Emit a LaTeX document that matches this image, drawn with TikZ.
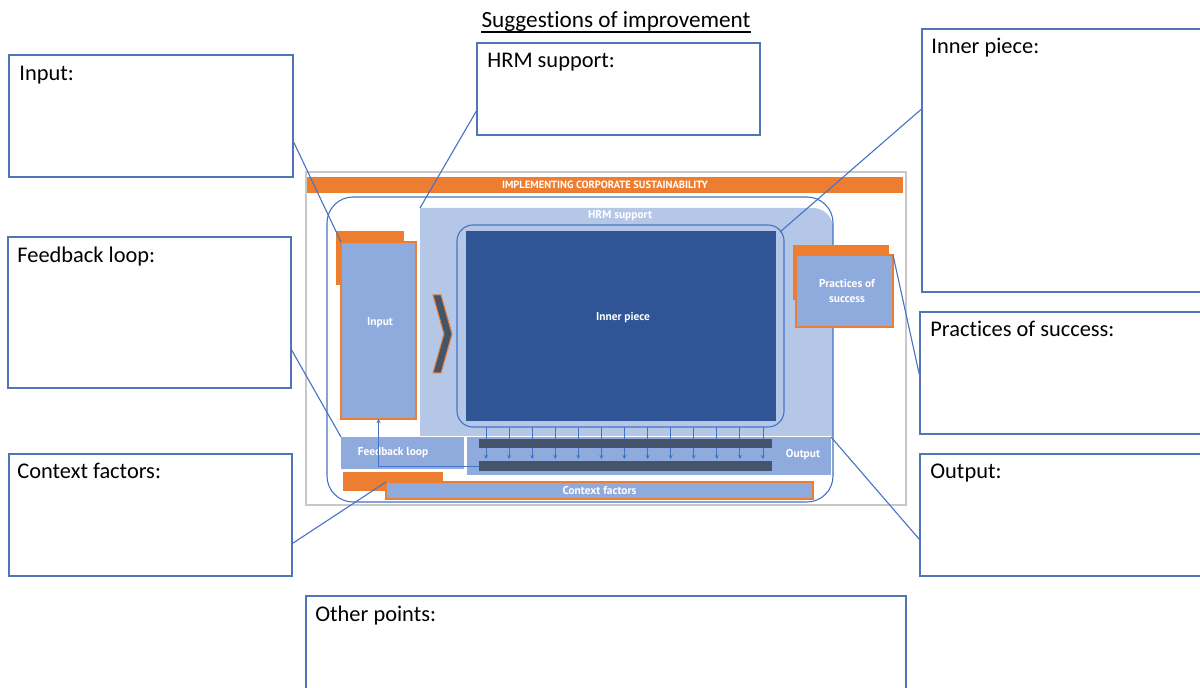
\documentclass[tikz,border=0pt]{standalone}
\usepackage{fontspec}
\setmainfont{Carlito}[Ligatures=NoCommon]
\newfontfamily\dinfont{PT Sans}
\usetikzlibrary{fit,calc,arrows.meta}
\definecolor{noteblue}{HTML}{5275BA}
\definecolor{leadblue}{HTML}{4472C4}
\definecolor{hrmfill}{HTML}{B4C7E7}
\definecolor{midblue}{HTML}{8FAADC}
\definecolor{deepblue}{HTML}{2F5597}
\definecolor{slate}{HTML}{44546A}
\definecolor{accent}{HTML}{ED7D31}
\definecolor{framegray}{HTML}{C8C8C8}
\begin{document}
\begin{tikzpicture}[x=0.5pt,y=-0.5pt,
  notebox/.style={draw=noteblue, line width=0.75pt, inner sep=0pt},
  notelabel/.style={anchor=base west, inner sep=0pt, font=\fontsize{11.2}{13}\selectfont},
  lead/.style={draw=leadblue, line width=0.55pt},
  area/.style={inner sep=0pt, outer sep=0pt},
  tag/.style={inner sep=0pt, text=white, align=center, font=\dinfont\bfseries\fontsize{5.7}{6.7}\selectfont},
  orangeblock/.style={area, fill=accent},
  bluecard/.style={area, fill=midblue, draw=accent, line width=0.6pt},
  slatebar/.style={area, fill=slate},
  flow/.style={draw=leadblue, line width=0.4pt, -{Stealth[length=2pt,width=2pt]}}
]
\useasboundingbox (0,0) rectangle (1200,688);
\clip (0,0) rectangle (1200,688);

% ---------- heading ----------
\node[anchor=base, inner sep=0pt, font=\fontsize{11.6}{14}\selectfont] (title) at (616,28) {Suggestions of improvement};
\draw[line width=0.8pt] ($(title.base west)+(0,4)$) -- ($(title.base east)+(0,4)$);

% ---------- note boxes ----------
\node[notebox, fit={(9,55)(293,177)}] (nIn) {};
\node[notelabel] (tIn) at (19,81) {Input:};
\node[notebox, fit={(477,43)(760,135)}] (nHrm) {};
\node[notelabel] (tHrm) at (487,68) {HRM support:};
\node[notebox, fit={(922,29)(1210,292)}] (nInner) {};
\node[notelabel] (tInner) at (931,54) {Inner piece:};
\node[notebox, fit={(8,237)(291,388)}] (nFb) {};
\node[notelabel] (tFb) at (17,263) {Feedback loop:};
\node[notebox, fit={(920,312)(1210,434)}] (nPrac) {};
\node[notelabel] (tPrac) at (930,337) {Practices of success:};
\node[notebox, fit={(9,454)(292,576)}] (nCtx) {};
\node[notelabel] (tCtx) at (17,479) {Context factors:};
\node[notebox, fit={(920,454)(1210,576)}] (nOut) {};
\node[notelabel] (tOut) at (930,479) {Output:};
\node[notebox, fit={(306,596)(906,700)}] (nOther) {};
\node[notelabel] (tOther) at (315,622) {Other points:};

% ---------- model diagram ----------
\node[area, draw=framegray, line width=0.6pt, fit={(306,172)(906,505)}] (frame) {};
\node[orangeblock, fit={(307,177)(903,193)}] (topbar) {};
\node[tag, font=\dinfont\bfseries\fontsize{5.25}{6}\selectfont] (topbarText) at (topbar.center) {IMPLEMENTING CORPORATE SUSTAINABILITY};

% light HRM field, only its upper right corner rounded
\node[area, fit={(420,208)(833,436)}] (hrm) {};
\fill[hrmfill] (hrm.south west) -- (hrm.north west) [rounded corners=10pt] -- (hrm.north east) [sharp corners] -- (hrm.south east) -- cycle;
\node[tag] (hrmText) at (620,216) {HRM support};

% outer rounded outline
\node[area, draw=leadblue, line width=0.55pt, rounded corners=13pt, fit={(327,197)(833,502)}] (outer) {};

% inner piece
\node[area, draw=leadblue, line width=0.55pt, rounded corners=8pt, fit={(457,225)(784,427)}] (innerFrame) {};
\node[area, fill=deepblue, fit={(466,231)(776,421)}] (inner) {};
\node[tag] (innerText) at (623,318) {Inner piece};

% chevron
\filldraw[fill=slate, draw=accent, line width=0.5pt] (433,295) -- (441,295) -- (452,334) -- (441,373) -- (433,373) -- (444,334) -- cycle;

% input block
\node[orangeblock, fit={(336,231)(404,285)}] (inShadow) {};
\node[bluecard, fit={(341,242)(416,419)}] (pIn) {};
\node[tag] (inText) at (380,323) {Input};

% practices of success block
\node[orangeblock, fit={(793,245)(889,300)}] (pracShadow) {};
\node[bluecard, fit={(796,255)(893,327)}] (pPrac) {};
\node[tag] (pracText) at (847,291) {Practices of\\[1pt]success};

% feedback loop and output strips
\node[area, fill=midblue, fit={(341,437)(464,469)}] (pFb) {};
\node[tag] (fbText) at (393,453) {Feedback loop};
\node[area, fill=midblue, fit={(467,437)(831,475)}] (outStrip) {};
\node[tag] (outText) at (803,455) {Output};

% arrows from the inner piece down to the output
\foreach \k in {0,...,12}{
  \coordinate (a\k) at ({486+23.08*\k},427);
  \coordinate (b\k) at ({486+23.08*\k},459);
  \draw[flow] (a\k) -- (b\k);
}
\node[slatebar, fit={(479,439)(772,448)}] (barTop) {};
\node[slatebar, fit={(479,461)(772,471)}] (barBottom) {};

% feedback arrow back to the input
\draw[flow] (barBottom.west) -| (pIn.south);

% context factors
\node[orangeblock, fit={(343,472)(443,491)}] (ctxShadow) {};
\node[bluecard, fit={(386,482)(813,499)}] (ctx) {};
\node[tag] (ctxText) at (ctx.center) {Context factors};

% ---------- leader lines ----------
\draw[lead] ($(nIn.north east)+(0,88)$) -- (pIn.north west);
\draw[lead] ($(nHrm.north west)+(0,69)$) -- (hrm.north west);
\draw[lead] ($(nInner.north west)+(0,81)$) -- ($(innerFrame.north east)+(-4,7)$);
\draw[lead] ($(nPrac.north west)+(0,63)$) -- (pPrac.north east);
\draw[lead] ($(nOut.north west)+(0,86)$) -- (outStrip.north east);
\draw[lead] ($(nFb.north east)+(0,114)$) -- (pFb.north west);
\draw[lead] ($(nCtx.north east)+(0,90)$) -- (ctx.north west);
\end{tikzpicture}
\end{document}
